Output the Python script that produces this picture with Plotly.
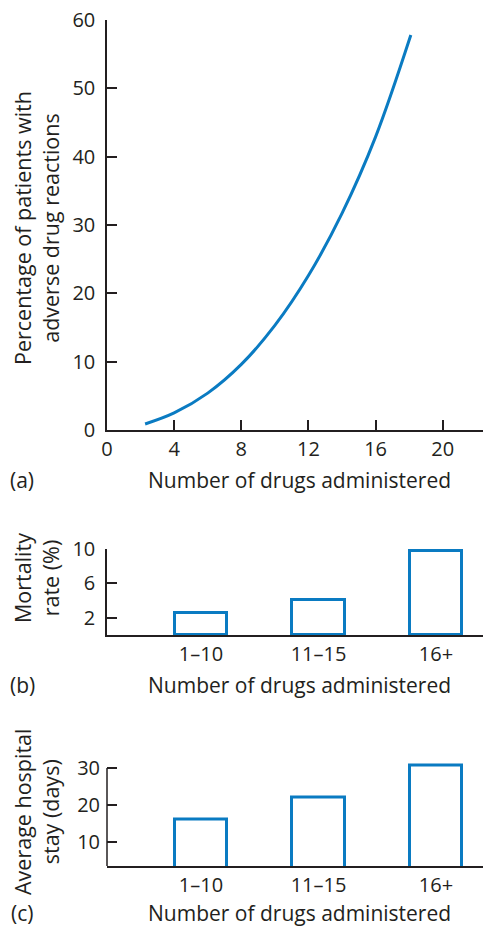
import plotly.graph_objects as go

W, H = 483, 926
INK = "#231f20"
BLUE = "#0a7bc2"
FONT = "Open Sans"

# (a) adverse drug reactions vs number of drugs
drugs_count = [2.27, 4, 6, 8, 10, 12, 14, 16, 18.1]
adr_percent = [0.88, 2.5, 5.4, 9.6, 15.3, 22.6, 31.7, 42.9, 57.8]
a_ticks = [0, 4, 8, 12, 16, 20]
a_yticks = [0, 10, 20, 30, 40, 50, 60]

# (b), (c) grouped by number of drugs
drug_groups = ["1–10", "11–15", "16+"]
mortality_rate = [2.6, 4.1, 9.8]
b_yticks = [2, 6, 10]
hospital_stay = [16.2, 22.0, 30.8]
c_yticks = [10, 20, 30]


def px_x(p):
    return p / W


def px_y(p):
    return 1 - p / H


fig = go.Figure()

fig.add_trace(go.Scatter(x=drugs_count, y=adr_percent, mode="lines",
                         line=dict(color=BLUE, width=3, shape="spline", smoothing=1),
                         xaxis="x", yaxis="y", showlegend=False))

fig.add_trace(go.Bar(x=drug_groups, y=mortality_rate, width=0.45,
                     marker=dict(color="rgba(0,0,0,0)", line=dict(color=BLUE, width=3)),
                     xaxis="x2", yaxis="y2", showlegend=False))

fig.add_trace(go.Bar(x=drug_groups, y=hospital_stay, width=0.45,
                     marker=dict(color="rgba(0,0,0,0)", line=dict(color=BLUE, width=3)),
                     xaxis="x3", yaxis="y3", showlegend=False))

axis_style = dict(showgrid=False, zeroline=False, linecolor=INK, linewidth=1.5,
                  tickcolor=INK, tickwidth=1.5, ticklen=10, automargin=False,
                  tickfont=dict(family=FONT, size=20, color=INK))

xdom = [px_x(107), 1]

fig.update_layout(
    width=W, height=H,
    margin=dict(l=0, r=0, t=0, b=0),
    paper_bgcolor="white", plot_bgcolor="white",
    font=dict(family=FONT, color=INK),
    bargap=0,
    xaxis=dict(axis_style, domain=xdom, anchor="y", range=[0, 22.4],
               tickmode="array", tickvals=a_ticks, ticks="inside", showline=True),
    yaxis=dict(axis_style, domain=[px_y(430), px_y(20)], anchor="x", range=[0, 60],
               tickmode="array", tickvals=a_yticks, ticks="inside", showline=True,
               ticklabelstandoff=6),
    xaxis2=dict(axis_style, domain=xdom, anchor="y2", type="category",
                range=[-0.8, 2.4], ticks="", showline=True),
    yaxis2=dict(axis_style, domain=[px_y(635), px_y(549)], anchor="x2", range=[0, 10],
                tickmode="array", tickvals=b_yticks, ticks="inside", showline=True,
                ticklabelstandoff=6),
    xaxis3=dict(axis_style, domain=xdom, anchor="y3", type="category",
                range=[-0.8, 2.4], ticks="", showline=True),
    yaxis3=dict(axis_style, domain=[px_y(866), px_y(762.5)], anchor="x3", range=[3.5, 31.5],
                tickmode="array", tickvals=c_yticks, ticks="inside", showline=False,
                ticklabelstandoff=6),
)

# y axis line of (c) stops at the 30 tick
fig.add_shape(type="line", xref="x3 domain", yref="y3", x0=0, x1=0, y0=3.5, y1=30,
              line=dict(color=INK, width=1.5))

xt_font = dict(family=FONT, size=21, color=INK)
yt_font = dict(family=FONT, size=21.5, color=INK)
notes = [
    ("(a)", 22, 480, 0, xt_font),
    ("(b)", 22, 685, 0, xt_font),
    ("(c)", 22, 913, 0, xt_font),
    ("Number of drugs administered", 299, 480, 0, xt_font),
    ("Number of drugs administered", 299, 685, 0, xt_font),
    ("Number of drugs administered", 299, 913, 0, xt_font),
    ("Percentage of patients with<br>adverse drug reactions", 36, 228, -90, yt_font),
    ("Mortality<br>rate (%)", 36, 578, -90, yt_font),
    ("Average hospital<br>stay (days)", 36, 812, -90, yt_font),
]
for text, x, y, ang, f in notes:
    fig.add_annotation(text=text, xref="paper", yref="paper", x=px_x(x), y=px_y(y),
                       xanchor="center", yanchor="middle", showarrow=False,
                       textangle=ang, font=f)

fig.write_html("out.html", config={"displayModeBar": False},
               post_script="document.body.style.margin='0';")
